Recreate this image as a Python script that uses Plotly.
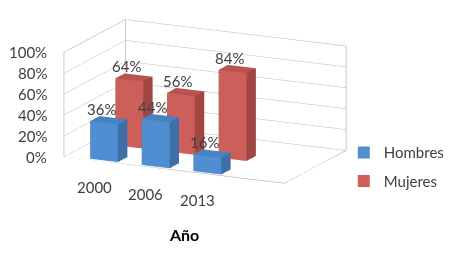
import plotly.graph_objects as go

categories = ["2000", "2006", "2013"]
series_names = ["Hombres", "Mujeres"]
hombres = [0.36, 0.44, 0.16]
mujeres = [0.64, 0.56, 0.84]
z_ticks = [0, 0.2, 0.4, 0.6, 0.8, 1.0]

front_cols = ["#4F8ED0", "#CD5F5A"]
top_cols = ["#4A82BE", "#B9534F"]
side_cols = ["#3E6FA6", "#A04743"]

XR = [-0.74, 3.53]
YR = [-0.26, 2.18]
ZR = [0, 1.0]
bw = 0.54
bd = 0.37

FONT = "Lato, Open Sans, sans-serif"
fig = go.Figure()

def box(xc, yc, h, fc, tc, sc):
    x0, x1 = xc - bw / 2, xc + bw / 2
    y0, y1 = yc - bd / 2, yc + bd / 2
    X = [x0, x1, x1, x0, x0, x1, x1, x0]
    Y = [y0, y0, y1, y1, y0, y0, y1, y1]
    Z = [0, 0, 0, 0, h, h, h, h]
    tri = [
        (0, 1, 5), (0, 5, 4),
        (1, 2, 6), (1, 6, 5),
        (4, 5, 6), (4, 6, 7),
        (3, 2, 6), (3, 6, 7),
        (0, 3, 7), (0, 7, 4),
        (0, 1, 2), (0, 2, 3),
    ]
    cols = [fc, fc, sc, sc, tc, tc, sc, sc, sc, sc, sc, sc]
    fig.add_trace(go.Mesh3d(
        x=X, y=Y, z=Z,
        i=[t[0] for t in tri], j=[t[1] for t in tri], k=[t[2] for t in tri],
        facecolor=cols, flatshading=True,
        lighting=dict(ambient=1, diffuse=0, specular=0, fresnel=0, roughness=1),
        hoverinfo="skip", showlegend=False,
    ))

edge = dict(color="#ababab", width=1.2)
frame = [
    ([XR[0], XR[0]], [YR[0], YR[0]], [ZR[0], ZR[1]]),
    ([XR[0], XR[0]], [YR[0], YR[1]], [ZR[1], ZR[1]]),
    ([XR[0], XR[1]], [YR[1], YR[1]], [ZR[1], ZR[1]]),
    ([XR[1], XR[1]], [YR[1], YR[1]], [ZR[1], ZR[0]]),
    ([XR[0], XR[0]], [YR[1], YR[1]], [ZR[1], ZR[0]]),
    ([XR[0], XR[1], XR[1]], [YR[0], YR[0], YR[1]], [ZR[0], ZR[0], ZR[0]]),
]
for fx, fy, fz in frame:
    fig.add_trace(go.Scatter3d(x=fx, y=fy, z=fz, mode="lines", line=edge,
                               showlegend=False, hoverinfo="skip"))

lblfont = dict(family=FONT, size=15, color="#404040")
scene_ann = []
for s, vals in enumerate([hombres, mujeres]):
    for c, v in enumerate(vals):
        box(c, s, v, front_cols[s], top_cols[s], side_cols[s])
        scene_ann.append(dict(x=c, y=s - bd / 2, z=v, text=f"{round(v*100)}%", showarrow=False,
                              yanchor="middle", yshift=14, xshift=-3, font=lblfont))
    fig.add_trace(go.Scatter(
        x=[None], y=[None], mode="markers", name=series_names[s],
        legendgroup=series_names[s],
        marker=dict(symbol="square", size=9, color=front_cols[s]),
    ))

for t in z_ticks:
    scene_ann.append(dict(x=XR[0], y=YR[0], z=t, text=f"{round(t*100)}%", showarrow=False,
                          xanchor="right", xshift=-15, font=lblfont))
for c, cat in enumerate(categories):
    scene_ann.append(dict(x=c, y=YR[0], z=0, text=cat, showarrow=False,
                          yanchor="middle", yshift=-26, xshift=-8, font=lblfont))

fig.update_layout(
    width=455, height=256,
    margin=dict(l=0, r=0, t=0, b=0),
    paper_bgcolor="white", plot_bgcolor="white",
    font=lblfont,
    xaxis=dict(visible=False, domain=[0.99, 1]), yaxis=dict(visible=False, domain=[0.99, 1]),
    scene=dict(
        domain=dict(x=[0.0, 0.866], y=[0.156, 1.0]),
        aspectmode="manual",
        aspectratio=dict(x=2.26, y=1.33, z=1.0),
        camera=dict(eye=dict(x=1.05, y=-2.2125, z=0.5), center=dict(x=0, y=0, z=-0.14),
                    up=dict(x=0, y=0, z=1), projection=dict(type="orthographic")),
        xaxis=dict(range=XR, showticklabels=False,
                   showgrid=False, showbackground=False, zeroline=False, title="",
                   showspikes=False, ticks=""),
        yaxis=dict(range=YR, showgrid=False, showbackground=False, zeroline=False,
                   showticklabels=False, title="", showspikes=False, ticks=""),
        zaxis=dict(range=ZR, tickvals=z_ticks, showticklabels=False, showgrid=True,
                   gridcolor="#c4c4c4", gridwidth=1.2, showbackground=False, zeroline=False,
                   title="", showspikes=False, ticks=""),
        annotations=scene_ann,
    ),
    legend=dict(x=0.738, y=0.38, yanchor="middle", font=lblfont, itemsizing="constant",
                tracegroupgap=6, bgcolor="rgba(0,0,0,0)"),
    annotations=[dict(text="<b>Año</b>", x=0.387, y=0.07, xref="paper", yref="paper",
                      showarrow=False, font=dict(family=FONT, size=16, color="#000000"))],
)

fig.write_html("out.html")
